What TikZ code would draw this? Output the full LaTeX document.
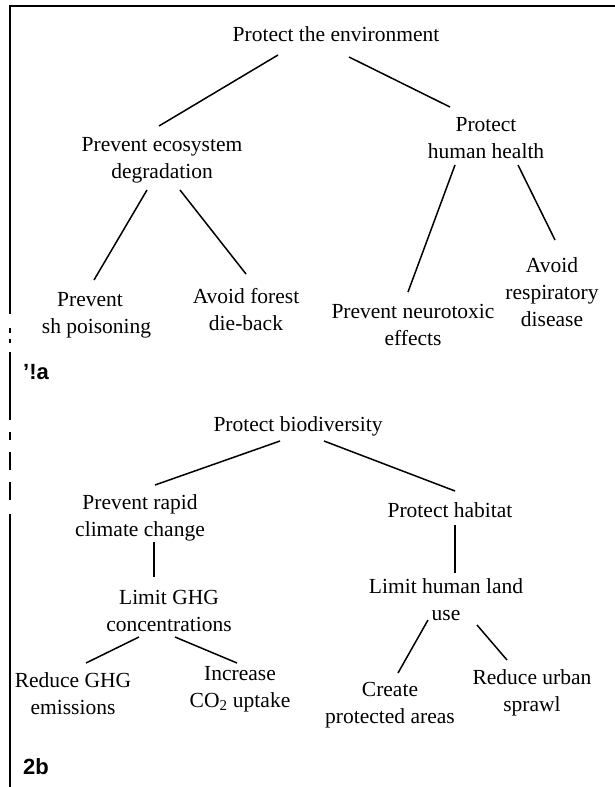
\documentclass[tikz,border=0pt]{standalone}
\usepackage{fontspec}
\setmainfont{Liberation Serif}
\newfontfamily\labelfont{Liberation Sans}
\usetikzlibrary{calc}
\newcommand\treefont{\fontsize{21.5}{27}\selectfont}
\tikzset{
  goal/.style={inner sep=0pt, align=center, font=\treefont},
  link/.style={line width=1.5pt},
  tag/.style={inner sep=0pt, anchor=west, font=\labelfont\bfseries\fontsize{22}{22}\selectfont},
  frame/.style={line width=1.2pt}
}
\begin{document}
\begin{tikzpicture}[x=1pt,y=-1pt]
\useasboundingbox (0,0) rectangle (615,787);
% frame
\draw[frame] (10,314) -- (10,6) -- (615,6);
\draw[frame] (10,328) -- (10,333);
\draw[frame] (10,339) -- (10,343);
\draw[frame] (10,352) -- (10,420);
\draw[frame] (10,432) -- (10,440);
\draw[frame] (10,452) -- (10,470);
\draw[frame] (10,482) -- (10,500);
\draw[frame] (10,514) -- (10,787);
% ---- 2a ----
\node[goal] (env) at (336,34) {Protect the environment};
\node[goal] (eco) at (162,160) {Prevent ecosystem\\degradation};
\node[goal] (hum) at (486,138) {Protect\\human health};
\node[goal] (fish) at (90,315) {Prevent\\\hphantom{fi}sh poisoning};
\node[goal] (forest) at (246,310) {Avoid forest\\die-back};
\node[goal] (neuro) at (413,325) {Prevent neurotoxic\\effects};
\node[goal] (resp) at (552,292) {Avoid\\respiratory\\disease};
\node[tag] (la) at (23,372) {’!a};
\draw[link] ($(env)+(-58,21)$) -- ($(eco)+(-3,-34)$);
\draw[link] ($(env)+(13,23)$) -- ($(hum)+(-36,-31)$);
\draw[link] ($(eco)+(-15,30)$) -- ($(fish)+(4,-35)$);
\draw[link] ($(eco)+(18,30)$) -- ($(forest)+(0,-36)$);
\draw[link] ($(hum)+(-31,27)$) -- ($(neuro)+(-5,-33)$);
\draw[link] ($(hum)+(32,27)$) -- ($(resp)+(3,-52)$);
% ---- 2b ----
\node[goal] (bio) at (298,426) {Protect biodiversity};
\node[goal] (clim) at (140,518) {Prevent rapid\\climate change};
\node[goal] (hab) at (450,510) {Protect habitat};
\node[goal] (ghg) at (169,611) {Limit GHG\\concentrations};
\node[goal] (land) at (446,600) {Limit human land\\use};
\node[goal] (emis) at (73,694) {Reduce GHG\\emissions};
\node[goal] (co2) at (240,689) {Increase\\CO\textsubscript{2} uptake};
\node[goal] (prot) at (390,705) {Create\\protected areas};
\node[goal] (urban) at (532,693) {Reduce urban\\sprawl};
\node[tag] (lb) at (23,767) {2b};
\draw[link] ($(bio)+(-18,15)$) -- ($(clim)+(15,-33)$);
\draw[link] ($(bio)+(26,15)$) -- ($(hab)+(5,-19)$);
\draw[link] ($(clim)+(14,24)$) -- ($(ghg)+(-15,-34)$);
\draw[link] ($(hab)+(5,15)$) -- ($(land)+(9,-27)$);
\draw[link] ($(ghg)+(-30,26)$) -- ($(emis)+(13,-31)$);
\draw[link] ($(ghg)+(6,26)$) -- ($(co2)+(-3,-26)$);
\draw[link] ($(land)+(-18,20)$) -- ($(prot)+(8,-32)$);
\draw[link] ($(land)+(31,25)$) -- ($(urban)+(-25,-33)$);
\end{tikzpicture}
\end{document}
